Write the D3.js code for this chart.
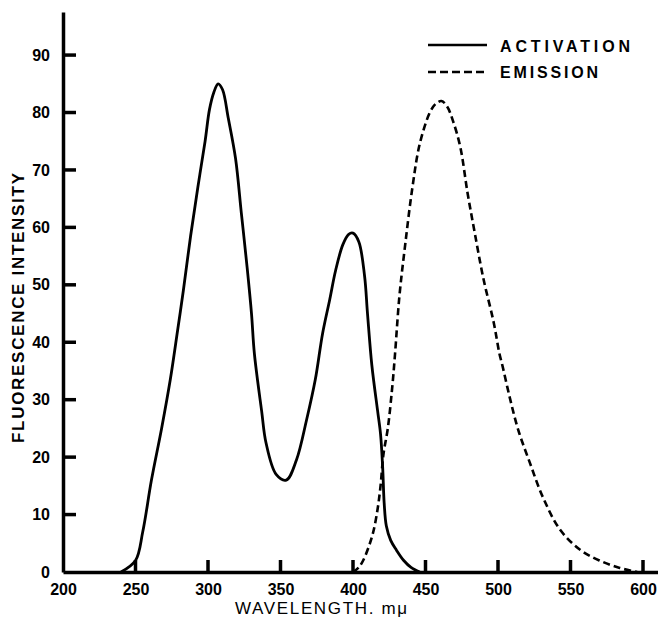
<!DOCTYPE html>
<html>
<head>
<meta charset="utf-8">
<script src="https://cdn.jsdelivr.net/npm/d3@7"></script>
<style>
  body { margin: 0; background: #fff; }
  text { font-family: "Liberation Sans Narrow", "Liberation Sans", Arial, sans-serif; fill: #000; }
</style>
</head>
<body>
<div id="chart"></div>
<script>
// activation spectrum (solid)
const activationWave = [240, 250, 255, 261, 268, 274, 279, 283, 288, 293, 298, 301, 304, 307, 310, 314, 319, 323, 327, 330, 332, 337, 340, 347, 354, 361, 368, 374, 379, 384, 388, 393, 397, 400, 404, 408, 410, 413, 417, 419, 420.5, 421.5, 423, 426, 430, 435, 440, 446];
const activationValue = [0, 2, 7, 16, 25, 33.5, 42, 49, 58.5, 67, 75, 80.5, 83.5, 85, 84, 79, 72, 62.5, 53, 45, 38, 28, 22.5, 17, 16, 19.5, 26.5, 33.5, 41.5, 47.5, 52.5, 57, 58.8, 59, 57.5, 51.5, 45, 36, 28, 24, 18, 12, 8, 5.5, 3.8, 2, 0.8, 0];

// emission spectrum (dashed)
const emissionWave = [400, 404, 407, 411, 414, 417, 419, 421, 424, 427, 429, 432, 436, 441, 446, 453, 457, 461, 465, 469, 474, 479, 484, 490, 497, 501, 503, 508, 514, 522, 531, 543, 557, 570, 584, 596];
const emissionValue = [0, 0.8, 2, 4.5, 7, 11, 15, 20.5, 25, 32, 38, 48, 57, 67, 74.5, 80, 81.5, 82, 81, 78.5, 74, 66, 59, 51, 43.5, 38, 36, 30.5, 24.7, 19, 13, 7.3, 3.8, 2, 0.7, 0];

const xTicks = [200, 250, 300, 350, 400, 450, 500, 550, 600];
const yTicks = [0, 10, 20, 30, 40, 50, 60, 70, 80, 90];

const width = 659;
const height = 620;

const x = d3.scaleLinear().domain([200, 610]).range([63, 657.5]);
const y = d3.scaleLinear().domain([0, 97.5]).range([572, 12]);

const svg = d3.select('#chart').append('svg')
  .attr('width', width)
  .attr('height', height);

// x axis (labels from the axis, marks drawn below)
svg.append('g')
  .attr('transform', `translate(0, ${y(0)})`)
  .call(d3.axisBottom(x).tickValues(xTicks).tickSize(0).tickPadding(13))
  .call(g => g.select('.domain').attr('stroke-width', 3.5))
  .call(g => g.selectAll('.tick text').attr('font-size', 16).attr('font-weight', 'bold').attr('dy', '0.6em'));

// y axis
svg.append('g')
  .attr('transform', `translate(${x(200)}, 0)`)
  .call(d3.axisLeft(y).tickValues(yTicks).tickSize(0).tickPadding(13))
  .call(g => g.select('.domain').attr('stroke-width', 3.5))
  .call(g => g.selectAll('.tick text').attr('font-size', 16).attr('font-weight', 'bold'));

// inward tick marks
svg.append('g')
  .selectAll('line').data(xTicks.filter(d => d !== 200)).enter().append('line')
  .attr('x1', d => x(d)).attr('x2', d => x(d))
  .attr('y1', y(0)).attr('y2', y(0) - 12)
  .attr('stroke', '#000').attr('stroke-width', 3.5);

svg.append('g')
  .selectAll('line').data(yTicks.filter(d => d !== 0)).enter().append('line')
  .attr('x1', x(200)).attr('x2', x(200) + 13)
  .attr('y1', d => y(d)).attr('y2', d => y(d))
  .attr('stroke', '#000').attr('stroke-width', 3.5);

// axis titles
svg.append('text')
  .attr('x', 235).attr('y', 614)
  .attr('font-size', 17)
  .attr('textLength', 172).attr('lengthAdjust', 'spacing')
  .text('WAVELENGTH. mμ');

svg.append('text')
  .attr('transform', 'translate(24, 308) rotate(-90)')
  .attr('text-anchor', 'middle')
  .attr('font-size', 17).attr('font-weight', 'bold')
  .attr('textLength', 270).attr('lengthAdjust', 'spacing')
  .text('FLUORESCENCE INTENSITY');

const line = d3.line()
  .x(d => x(d[0]))
  .y(d => y(d[1]))
  .curve(d3.curveCatmullRom.alpha(0.5));

svg.append('path')
  .datum(d3.zip(activationWave, activationValue))
  .attr('fill', 'none')
  .attr('stroke', '#000')
  .attr('stroke-width', 2.8)
  .attr('d', line);

svg.append('path')
  .datum(d3.zip(emissionWave, emissionValue))
  .attr('fill', 'none')
  .attr('stroke', '#000')
  .attr('stroke-width', 2.6)
  .attr('stroke-dasharray', '7,4')
  .attr('d', line);

// legend
const legend = svg.append('g');
legend.append('line')
  .attr('x1', 428).attr('x2', 487).attr('y1', 45).attr('y2', 45)
  .attr('stroke', '#000').attr('stroke-width', 2.4);
legend.append('line')
  .attr('x1', 428).attr('x2', 487).attr('y1', 72).attr('y2', 72)
  .attr('stroke', '#000').attr('stroke-width', 2.4)
  .attr('stroke-dasharray', '8,4');
legend.append('text')
  .attr('x', 500).attr('y', 52)
  .attr('font-size', 16).attr('font-weight', 'bold')
  .attr('textLength', 130).attr('lengthAdjust', 'spacing')
  .text('ACTIVATION');
legend.append('text')
  .attr('x', 500).attr('y', 78)
  .attr('font-size', 16).attr('font-weight', 'bold')
  .attr('textLength', 98).attr('lengthAdjust', 'spacing')
  .text('EMISSION');
</script>
</body>
</html>
